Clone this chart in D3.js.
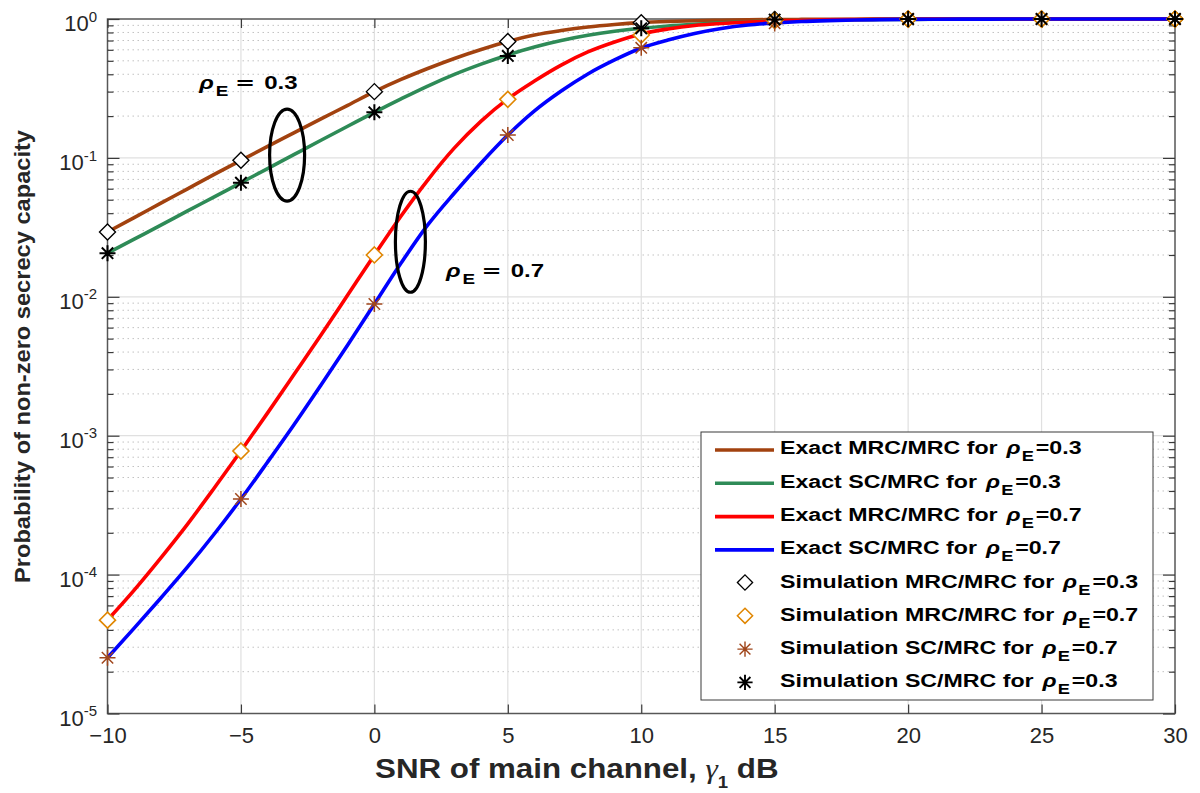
<!DOCTYPE html>
<html>
<head>
<meta charset="utf-8">
<script src="https://cdn.jsdelivr.net/npm/d3@7"></script>
<style>
  html, body { margin: 0; padding: 0; background: #ffffff; }
  svg { display: block; }
  text { font-family: "Liberation Sans", Arial, Helvetica, sans-serif; white-space: pre; }
</style>
</head>
<body>
<svg id="chart" width="1200" height="793"></svg>
<script>
// SNR of the main channel (dB) at which the exact curves are evaluated
const snrDb = [-10,-9,-8,-7,-6,-5,-4,-3,-2,-1,0,1,2,3,4,5,6,7,8,9,10,
               11,12,13,14,15,16,17,18,19,20,21,22,23,24,25,26,27,28,29,30];

// Exact probability of non-zero secrecy capacity
const exactMrcMrc03 = [0.0293,0.0372,0.0472,0.0599,0.0760,0.0961,0.121,0.152,0.191,0.239,
                       0.300,0.367,0.440,0.520,0.603,0.689,0.767,0.826,0.876,0.913,
                       0.941,0.959,0.972,0.980,0.987,0.990,0.993,0.995,0.997,0.998,
                       0.999,0.9993,0.9995,0.9997,0.9998,0.9999,1,1,1,1,1];
const exactScMrc03  = [0.0206,0.0260,0.0328,0.0415,0.0524,0.0663,0.0838,0.106,0.134,0.169,
                       0.213,0.266,0.329,0.399,0.473,0.551,0.629,0.700,0.763,0.815,
                       0.857,0.891,0.917,0.939,0.956,0.967,0.977,0.984,0.988,0.991,
                       0.994,0.996,0.997,0.998,0.9985,0.999,0.9994,0.9996,0.9998,0.9999,1];
const exactMrcMrc07 = [4.71e-5,7.74e-5,1.32e-4,2.31e-4,4.20e-4,7.76e-4,1.46e-3,2.78e-3,5.31e-3,1.03e-2,
                       0.0200,0.0382,0.0693,0.118,0.184,0.266,0.358,0.466,0.579,0.683,
                       0.780,0.847,0.898,0.928,0.951,0.967,0.979,0.987,0.992,0.995,
                       0.997,0.998,0.9988,0.9993,0.9996,0.9998,0.9999,1,1,1,1];
const exactScMrc07  = [2.52e-5,4.12e-5,6.79e-5,1.135e-4,1.96e-4,3.50e-4,6.47e-4,1.21e-3,2.32e-3,4.50e-3,
                       8.87e-3,0.0175,0.0329,0.0559,0.0919,0.146,0.218,0.303,0.402,0.507,
                       0.618,0.706,0.787,0.855,0.905,0.936,0.959,0.974,0.984,0.990,
                       0.994,0.996,0.9975,0.9985,0.999,0.9994,0.9996,0.9998,0.9999,1,1];

// Monte-Carlo simulation points
const simSnrDb    = [-10,-5,0,5,10,15,20,25,30];
const simMrcMrc03 = [0.0293,0.0961,0.300,0.689,0.940,0.990,1,1,1];
const simMrcMrc07 = [4.7e-5,7.76e-4,0.0200,0.264,0.767,0.975,1,1,1];
const simScMrc07  = [2.52e-5,3.50e-4,8.87e-3,0.146,0.620,0.930,1,1,1];
const simScMrc03  = [0.0206,0.0663,0.213,0.542,0.857,0.990,1,1,1];

// Axis ticks
const xTickValues = [-10,-5,0,5,10,15,20,25,30];
const yTickExponents = [-5,-4,-3,-2,-1,0];

// Legend entries
const legendNames = [
  "Exact MRC/MRC for ", "Exact SC/MRC for ", "Exact MRC/MRC for ", "Exact SC/MRC for ",
  "Simulation MRC/MRC for ", "Simulation MRC/MRC for ", "Simulation SC/MRC for ", "Simulation SC/MRC for "
];
const legendRho = ["0.3","0.3","0.7","0.7","0.3","0.7","0.7","0.3"];

// ---------------------------------------------------------------------------
const svg = d3.select("#chart");
const L = 107.5, R = 1175, T = 19, B = 713.5;

const x = d3.scaleLinear().domain([-10, 30]).range([L, R]);
const y = d3.scaleLog().domain([1e-5, 1]).range([B, T]);

const decades = yTickExponents.map(e => Math.pow(10, e));
const minorY = y.ticks().filter(v => !decades.some(d => Math.abs(v / d - 1) < 1e-9));

// grid
const grid = svg.append("g");
grid.selectAll("line.minor").data(minorY).join("line")
  .attr("x1", L).attr("x2", R)
  .attr("y1", d => y(d)).attr("y2", d => y(d))
  .attr("stroke", "#c2c2c2").attr("stroke-width", 1)
  .attr("stroke-dasharray", "1.5 3.5");
grid.selectAll("line.hmajor").data(decades.slice(1, -1)).join("line")
  .attr("x1", L).attr("x2", R)
  .attr("y1", d => y(d)).attr("y2", d => y(d))
  .attr("stroke", "#e0e0e0").attr("stroke-width", 1.2);
svg.append("g").selectAll("line").data(xTickValues.slice(1, -1)).join("line")
  .attr("x1", d => x(d)).attr("x2", d => x(d))
  .attr("y1", T).attr("y2", B)
  .attr("stroke", "#e0e0e0").attr("stroke-width", 1.2);

// axes box and inward ticks
svg.append("rect").attr("x", L).attr("y", T).attr("width", R - L).attr("height", B - T)
  .attr("fill", "none").attr("stroke", "#575757").attr("stroke-width", 1.5);

function styleAxis(g) {
  g.select(".domain").remove();
  g.selectAll(".tick line").attr("stroke", "#3a3a3a").attr("stroke-width", 1.2);
}

const xb = svg.append("g").attr("transform", `translate(0,${B})`)
  .call(d3.axisBottom(x).tickValues(xTickValues).tickSize(-9).tickSizeOuter(0).tickPadding(14)
    .tickFormat(d => d < 0 ? "\u2212" + (-d) : String(d)));
styleAxis(xb);
xb.selectAll(".tick text").attr("font-size", 22).attr("fill", "#262626")
  .attr("font-family", "'Liberation Sans', Arial, sans-serif");

const xt = svg.append("g").attr("transform", `translate(0,${T})`)
  .call(d3.axisTop(x).tickValues(xTickValues).tickSize(-9).tickSizeOuter(0).tickFormat(""));
styleAxis(xt);

const yl = svg.append("g").attr("transform", `translate(${L},0)`)
  .call(d3.axisLeft(y).tickValues(decades).tickSize(-12).tickSizeOuter(0).tickPadding(10.5).tickFormat(""));
styleAxis(yl);
yl.selectAll(".tick text")
  .attr("font-size", 22).attr("fill", "#262626").attr("dy", "0.53em")
  .attr("font-family", "'Liberation Sans', Arial, sans-serif")
  .each(function (d) {
    const t = d3.select(this);
    t.text(null);
    t.append("tspan").text("10");
    t.append("tspan").attr("font-size", 15).attr("dy", -9.5).text(String(Math.round(Math.log10(d))));
  });
const ylm = svg.append("g").attr("transform", `translate(${L},0)`)
  .call(d3.axisLeft(y).tickValues(minorY).tickSize(-6).tickSizeOuter(0).tickFormat(""));
styleAxis(ylm);

const yr = svg.append("g").attr("transform", `translate(${R},0)`)
  .call(d3.axisRight(y).tickValues(decades).tickSize(-12).tickSizeOuter(0).tickFormat(""));
styleAxis(yr);
const yrm = svg.append("g").attr("transform", `translate(${R},0)`)
  .call(d3.axisRight(y).tickValues(minorY).tickSize(-6).tickSizeOuter(0).tickFormat(""));
styleAxis(yrm);

// exact curves
const exactSeries = [
  { values: exactMrcMrc03, color: "#a2420f" },
  { values: exactScMrc03,  color: "#2e8b57" },
  { values: exactMrcMrc07, color: "#ff0000" },
  { values: exactScMrc07,  color: "#0000ff" }
];
const line = d3.line().x(d => x(d[0])).y(d => y(d[1])).curve(d3.curveMonotoneX);
svg.append("g").selectAll("path").data(exactSeries).join("path")
  .attr("d", s => line(snrDb.map((v, i) => [v, s.values[i]])))
  .attr("fill", "none").attr("stroke", s => s.color).attr("stroke-width", 3.6)
  .attr("stroke-linejoin", "round");

// marker shapes
const diamondPath = "M0,-8L8,0L0,8L-8,0Z";
const starPath = "M-8,0H8M0,-8V8M-5.7,-5.7L5.7,5.7M-5.7,5.7L5.7,-5.7";
const simSeries = [
  { values: simMrcMrc03, shape: diamondPath, stroke: "#000000", fill: "#ffffff", w: 1.4 },
  { values: simMrcMrc07, shape: diamondPath, stroke: "#e08600", fill: "#ffffff", w: 1.6 },
  { values: simScMrc07,  shape: starPath,    stroke: "#a0461b", fill: "none",    w: 1.5 },
  { values: simScMrc03,  shape: starPath,    stroke: "#000000", fill: "none",    w: 2.0 }
];
simSeries.forEach(s => {
  svg.append("g").selectAll("path").data(simSnrDb.map((v, i) => [v, s.values[i]])).join("path")
    .attr("transform", d => `translate(${x(d[0])},${y(d[1])})`)
    .attr("d", s.shape)
    .attr("fill", s.fill).attr("stroke", s.stroke).attr("stroke-width", s.w);
});

// annotation ellipses and labels
const ann = svg.append("g");
[{ c: [-3.27, 0.1048], rx: 17.5, ry: 46 }, { c: [1.35, 0.0249], rx: 15, ry: 50.5 }].forEach(e => {
  ann.append("ellipse").attr("cx", x(e.c[0])).attr("cy", y(e.c[1]))
    .attr("rx", e.rx).attr("ry", e.ry)
    .attr("fill", "none").attr("stroke", "#000").attr("stroke-width", 3.2);
});
function rhoLabel(at, val) {
  const t = ann.append("g").attr("transform", `translate(${x(at[0])},${y(at[1])}) scale(1.3,1)`)
    .append("text").attr("font-size", 18.5).attr("font-weight", "bold").attr("fill", "#000");
  t.append("tspan").attr("font-style", "italic").text("\u03c1");
  t.append("tspan").attr("dx", 1.5).attr("dy", 7).attr("font-size", 14.5).text("E");
  t.append("tspan").attr("dx", 5).attr("dy", -7)
    .attr("font-family", "'DejaVu Sans', sans-serif").text("=");
  t.append("tspan").attr("dx", 7).text(val);
}
rhoLabel([-6.56, 0.313], "0.3");
rhoLabel([2.68, 0.01395], "0.7");

// axis labels
svg.append("g").attr("transform", "translate(375,778.3) scale(1.16,1)")
  .append("text").attr("font-size", 27).attr("font-weight", "bold").attr("fill", "#262626")
  .call(t => {
    t.append("tspan").text("SNR of main channel, ");
    t.append("tspan").attr("font-weight", "normal").attr("font-style", "italic")
      .attr("font-family", "'Liberation Serif', 'DejaVu Serif', serif").text("\u03b3");
    t.append("tspan").attr("font-size", 16).attr("dy", 9.5).text("1");
    t.append("tspan").attr("dy", -9.5).text(" dB");
  });
svg.append("g").attr("transform", "translate(29.5,356.5) rotate(-90) scale(1.06,1)")
  .append("text").attr("text-anchor", "middle").attr("font-size", 22.3)
  .attr("font-weight", "bold").attr("fill", "#262626")
  .text("Probability of non-zero secrecy capacity");

// legend
const leg = svg.append("g");
leg.append("rect").attr("x", 701).attr("y", 432).attr("width", 452).attr("height", 268)
  .attr("fill", "#ffffff").attr("stroke", "#3a3a3a").attr("stroke-width", 1);
const legendMarks = [
  { kind: "line", color: "#a2420f" }, { kind: "line", color: "#2e8b57" },
  { kind: "line", color: "#ff0000" }, { kind: "line", color: "#0000ff" },
  { kind: "mark", s: simSeries[0] }, { kind: "mark", s: simSeries[1] },
  { kind: "mark", s: simSeries[2] }, { kind: "mark", s: simSeries[3] }
];
legendNames.forEach((name, i) => {
  const base = 454.3 + i * 33.3;
  const m = legendMarks[i];
  if (m.kind === "line") {
    leg.append("line").attr("x1", 715).attr("x2", 774).attr("y1", base - 4.3).attr("y2", base - 4.3)
      .attr("stroke", m.color).attr("stroke-width", 3.6);
  } else {
    leg.append("path").attr("transform", `translate(745,${base - 5}) scale(0.95)`)
      .attr("d", m.s.shape).attr("fill", m.s.fill).attr("stroke", m.s.stroke).attr("stroke-width", m.s.w);
  }
  const t = leg.append("g").attr("transform", `translate(780,${base}) scale(1.22,1)`)
    .append("text").attr("font-size", 19).attr("font-weight", "bold").attr("fill", "#000");
  t.append("tspan").text(name);
  t.append("tspan").attr("dx", 2).attr("font-style", "italic").text("\u03c1");
  t.append("tspan").attr("dx", 1).attr("dy", 7).attr("font-size", 15).text("E");
  t.append("tspan").attr("dx", 1.5).attr("dy", -7).text("=" + legendRho[i]);
});
</script>
</body>
</html>
